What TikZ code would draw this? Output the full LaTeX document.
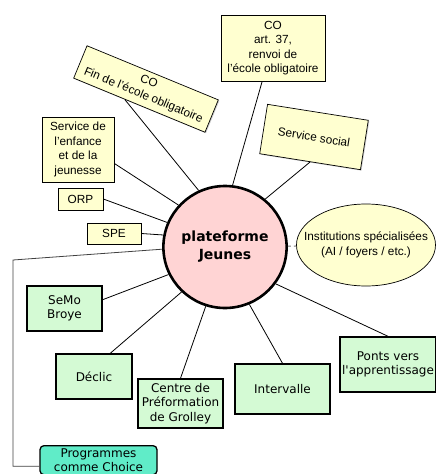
\documentclass[tikz,border=0pt]{standalone}
\usepackage{fontspec}
\setmainfont{Liberation Sans}
\newfontfamily\comicfont{DejaVu Sans}
\usepackage{tikz}
\usetikzlibrary{shapes,shadows}
\definecolor{boxyellow}{RGB}{255,255,208}
\definecolor{boxgreen}{RGB}{212,250,212}
\definecolor{boxpink}{RGB}{255,212,212}
\definecolor{boxteal}{RGB}{96,236,200}

\begin{document}
\begin{tikzpicture}
    [x=1pt,y=-1pt,line width=0.8pt,
yellowbox/.style={rectangle,draw,line width=0.7pt,fill=boxyellow,align=center,inner sep=0pt,
  drop shadow={shadow xshift=1pt,shadow yshift=-1pt,fill=black!40},
  font=\fontsize{11.8}{14.5}\selectfont},
greenbox/.style={rectangle,draw,line width=1.4pt,fill=boxgreen,align=center,inner sep=0pt,
  font=\comicfont\fontsize{12}{14.2}\selectfont}
]
\useasboundingbox (0,0) rectangle (436,474);
\clip (0,0) rectangle (436,474);
  \node[ellipse,draw,line width=2.6pt,fill=boxpink,minimum width=116pt,minimum height=122pt,
    inner sep=0pt,align=center,font=\comicfont\bfseries\fontsize{14}{18}\selectfont]
    (plateforme) at (225,247) {plateforme\\Jeunes};
  \node[yellowbox,minimum width=104pt,minimum height=66pt] (coArt) at (273,48)
    {CO\\art. 37,\\renvoi de\\l'école obligatoire};
  \node[yellowbox,rotate=-22.4,minimum width=142pt,minimum height=35pt] (coFin) at (146,89)
    {CO\\Fin de l'école obligatoire};
  \node[yellowbox,rotate=-9,minimum width=102pt,minimum height=50pt] (social) at (314,137)
    {Service social};
  \node[yellowbox,minimum width=72pt,minimum height=65pt] (enfance) at (78,149.5)
    {Service de\\l'enfance\\et de la\\jeunesse};
  \node[yellowbox,minimum width=45pt,minimum height=22pt] (orp) at (80.5,199) {ORP};
  \node[yellowbox,minimum width=54pt,minimum height=21pt] (spe) at (114,233.5) {SPE};
  \node[ellipse,draw,line width=0.7pt,fill=boxyellow,minimum width=139pt,minimum height=82pt,
    inner sep=0pt,align=center,font=\fontsize{11.8}{14.5}\selectfont] (institutions) at (366,245)
    {\makebox[0pt]{Institutions spécialisées}\\\makebox[0pt]{(AI / foyers / etc.)}};
  \node[greenbox,minimum width=75pt,minimum height=45pt] (semo) at (64.5,308.5) {SeMo\\Broye};
  \node[greenbox,minimum width=76pt,minimum height=45pt] (declic) at (94,376.5) {Déclic};
  \node[greenbox,minimum width=85pt,minimum height=49pt] (grolley) at (180.5,403.5)
    {Centre de\\Préformation\\de Grolley};
  \node[greenbox,minimum width=95pt,minimum height=50pt] (intervalle) at (282.5,389) {Intervalle};
  \node[greenbox,minimum width=96pt,minimum height=55pt] (ponts) at (388,364.5)
    {Ponts vers\\l'apprentissage};
  \node[greenbox,line width=1.3pt,fill=boxteal,rounded corners=4pt,anchor=north,
    minimum width=117pt,inner ysep=3pt] (choice) at (98.5,445) {Programmes\\comme Choice};
  \coordinate (bend) at (13,260);

  \draw (coArt.-108) -- (plateforme.83);
  \draw (coFin.-131) -- (plateforme.115);
  \draw (social.south) -- (plateforme.50);
  \draw (enfance.-21) -- (plateforme.138);
  \draw (orp.east) -- (plateforme.157);
  \draw (spe.east) -- (plateforme.169);
  \draw[black!75] (plateforme.-178) -- (bend) |- ([yshift=-6pt]choice.west);
  \draw (semo.13) -- (plateforme.-154);
  \draw (declic.55) -- (plateforme.-134);
  \draw (grolley.north) -- (plateforme.-108);
  \draw (intervalle.north) -- (plateforme.-67);
  \draw (ponts.north) -- (plateforme.-36);
  \draw[dashed,black!55,line width=1pt] (plateforme) -- (institutions);
\end{tikzpicture}
\end{document}
